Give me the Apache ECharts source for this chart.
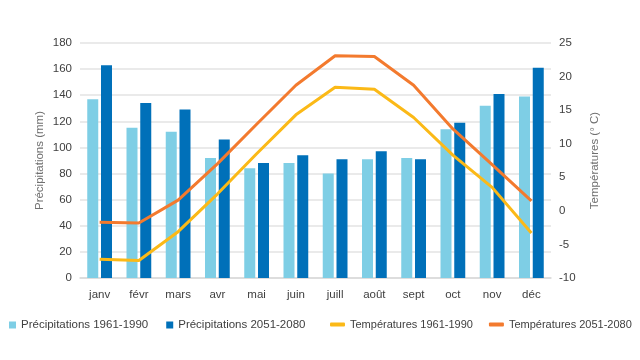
<!DOCTYPE html>
<html>
<head>
<meta charset="utf-8">
<script src="https://cdn.jsdelivr.net/npm/echarts@6/dist/echarts.min.js"></script>
<style>
html,body{margin:0;padding:0;background:#fff;}
#c{width:640px;height:360px;}
</style>
</head>
<body>
<div id="c"></div>
<script>
const months = ['janv','févr','mars','avr','mai','juin','juill','août','sept','oct','nov','déc'];
const precip1961 = [137, 115, 112, 92, 84, 88, 80, 91, 92, 114, 132, 139];
const precip2051 = [163, 134, 129, 106, 88, 94, 91, 97, 91, 119, 141, 161];
const temp1961 = [-7.2, -7.4, -3.1, 2.5, 8.5, 14.3, 18.4, 18.1, 13.9, 8.3, 3.5, -3.3];
const temp2051 = [-1.7, -1.8, 1.6, 7.0, 12.9, 18.7, 23.1, 23.0, 18.7, 12.2, 6.9, 1.5];
const precipTicks = {min: 0, max: 180, interval: 20};
const tempTicks = {min: -10, max: 25, interval: 5};

const FONT = 'Liberation Sans, Arial, sans-serif';
const labelColor = '#404040';
const chart = echarts.init(document.getElementById('c'), null, {renderer: 'canvas'});
chart.setOption({
  animation: false,
  textStyle: {fontFamily: FONT},
  grid: {left: 80, right: 89, top: 43, bottom: 82},
  legend: [
    {
      data: [
        {name: 'Précipitations 1961-1990', icon: 'rect'},
        {name: 'Précipitations 2051-2080', icon: 'rect'}
      ],
      left: 4, top: 314, itemWidth: 7, itemHeight: 7, itemGap: 18,
      textStyle: {fontSize: 11.5, color: labelColor, fontFamily: FONT}
    },
    {
      data: [
        {name: 'Températures 1961-1990', icon: 'roundRect'},
        {name: 'Températures 2051-2080', icon: 'roundRect'}
      ],
      left: 325, top: 314, width: 320, itemWidth: 15, itemHeight: 4, itemGap: 16,
      textStyle: {fontSize: 11, color: labelColor, fontFamily: FONT}
    }
  ],
  xAxis: {
    type: 'category',
    data: months,
    axisLine: {lineStyle: {color: '#d9d9d9', width: 1.5}},
    axisTick: {show: false},
    axisLabel: {color: labelColor, fontSize: 11.5, margin: 11, fontFamily: FONT}
  },
  yAxis: [
    {
      type: 'value',
      min: precipTicks.min, max: precipTicks.max, interval: precipTicks.interval,
      name: 'Précipitations (mm)',
      nameLocation: 'middle', nameGap: 34, nameMoveOverlap: false,
      nameTextStyle: {color: '#707070', fontSize: 11.5, fontFamily: FONT},
      axisLine: {show: false}, axisTick: {show: false},
      axisLabel: {color: labelColor, fontSize: 11.5, margin: 8, fontFamily: FONT},
      splitLine: {lineStyle: {color: '#e3e3e3', width: 1.5}}
    },
    {
      type: 'value',
      min: tempTicks.min, max: tempTicks.max, interval: tempTicks.interval,
      name: 'Températures (° C)',
      nameLocation: 'middle', nameGap: 38, nameMoveOverlap: false,
      nameTextStyle: {color: '#707070', fontSize: 11.5, fontFamily: FONT},
      axisLine: {show: false}, axisTick: {show: false},
      axisLabel: {color: labelColor, fontSize: 11.5, margin: 8, fontFamily: FONT},
      splitLine: {show: false}
    }
  ],
  series: [
    {
      name: 'Précipitations 1961-1990', type: 'bar', data: precip1961,
      barWidth: 11, barGap: '25%',
      itemStyle: {color: '#7ecee5'}
    },
    {
      name: 'Précipitations 2051-2080', type: 'bar', data: precip2051,
      barWidth: 11, barGap: '25%',
      itemStyle: {color: '#0070b9'}
    },
    {
      name: 'Températures 1961-1990', type: 'line', yAxisIndex: 1, data: temp1961,
      showSymbol: false, symbol: 'none',
      lineStyle: {color: '#fbb917', width: 3},
      itemStyle: {color: '#fbb917'}
    },
    {
      name: 'Températures 2051-2080', type: 'line', yAxisIndex: 1, data: temp2051,
      showSymbol: false, symbol: 'none',
      lineStyle: {color: '#f37a2e', width: 3},
      itemStyle: {color: '#f37a2e'}
    }
  ]
});
</script>
</body>
</html>
